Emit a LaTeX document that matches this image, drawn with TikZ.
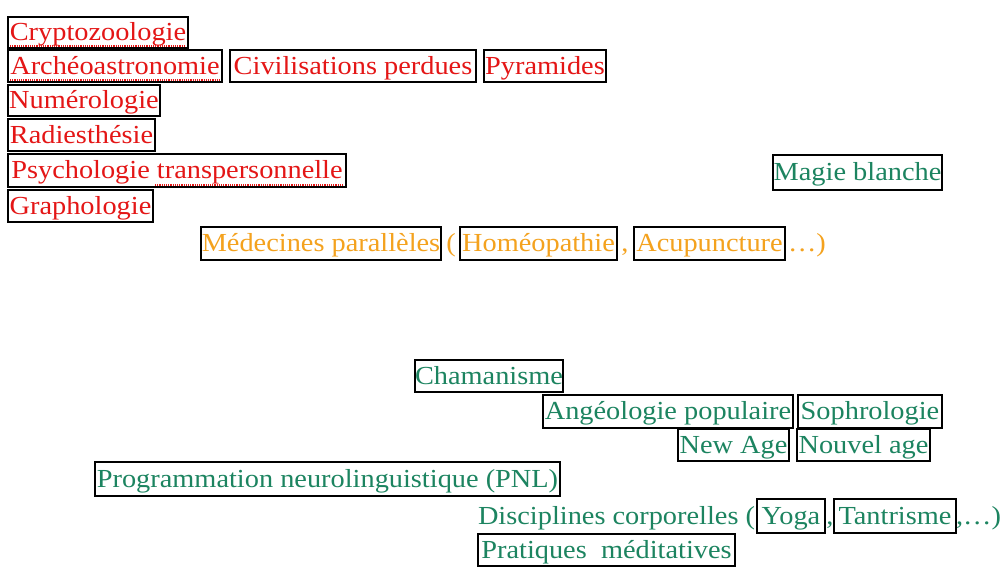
\documentclass[tikz,border=0pt]{standalone}
\usepackage{fontspec}
\setmainfont[FakeStretch=1.09]{Liberation Serif}
\definecolor{cred}{RGB}{228,22,22}
\definecolor{corange}{RGB}{244,162,30}
\definecolor{cgreen}{RGB}{28,132,96}
\tikzset{
  box/.style={draw=black, line width=1.5pt, inner sep=0pt, outer sep=0pt,
    text height=20pt, text depth=4pt, font=\fontsize{26}{28}\selectfont},
  plain/.style={inner sep=0pt, outer sep=0pt, text height=20pt, text depth=4pt,
    font=\fontsize{26}{28}\selectfont},
  rtext/.style={text=cred},
  otext/.style={text=corange},
  gtext/.style={text=cgreen},
  spell/.style={draw=cred, densely dotted, line width=1.2pt}
}
\begin{document}
\begin{tikzpicture}[x=1pt,y=-1pt]
\path[use as bounding box, fill=white] (0,0) rectangle (1003,566);
% red group
\node[box,rtext,minimum width=180pt,minimum height=31pt] (crypto) at (98,32.5) {Cryptozoologie};
\node[box,rtext,minimum width=214pt,minimum height=32pt] (archeo) at (115,66) {Archéoastronomie};
\node[box,rtext,minimum width=246pt,minimum height=32pt] (civil) at (353,66) {Civilisations perdues};
\node[box,rtext,minimum width=122pt,minimum height=32pt] (pyram) at (545,66) {Pyramides};
\node[box,rtext,minimum width=152pt,minimum height=31pt] (numero) at (84,100.5) {Numérologie};
\node[box,rtext,minimum width=147pt,minimum height=32pt] (radies) at (81.5,135) {Radiesthésie};
\node[box,rtext,minimum width=338pt,minimum height=33pt] (psycho) at (177,170.5) {Psychologie transpersonnelle};
\node[box,rtext,minimum width=145pt,minimum height=32pt] (grapho) at (80.5,206) {Graphologie};
\draw[spell] (10,46) -- (185,46);
\draw[spell] (10,80) -- (220,80);
\draw[spell] (155,185) -- (344,185);
% orange group
\node[box,otext,minimum width=240pt,minimum height=33pt] (medec) at (321,243.5) {Médecines parallèles};
\node[plain,otext] (par1) at (451,243.5) {(};
\node[box,otext,minimum width=157pt,minimum height=33pt] (homeo) at (538.5,243.5) {Homéopathie};
\node[plain,otext] (com1) at (625,243.5) {,};
\node[box,otext,minimum width=151pt,minimum height=33pt] (acup) at (709.5,243.5) {Acupuncture};
\node[plain,otext,anchor=west] (etc1) at (788,243.5) {\dots)};
% green group
\node[box,gtext,minimum width=169pt,minimum height=35pt] (magie) at (857.5,172.5) {Magie blanche};
\node[box,gtext,minimum width=148pt,minimum height=32pt] (chaman) at (489,376) {Chamanisme};
\node[box,gtext,minimum width=250pt,minimum height=33pt] (angeo) at (668,411.5) {Angéologie populaire};
\node[box,gtext,minimum width=144pt,minimum height=33pt] (sophro) at (870,411.5) {Sophrologie};
\node[box,gtext,minimum width=111pt,minimum height=32pt] (newage) at (733.5,445) {New Age};
\node[box,gtext,minimum width=133pt,minimum height=32pt] (nouvel) at (863.5,445) {Nouvel age};
\node[box,gtext,minimum width=465pt,minimum height=34pt] (pnl) at (327.5,479) {Programmation neurolinguistique (PNL)};
\node[plain,gtext,anchor=west] (discip) at (478,516) {Disciplines corporelles (};
\node[box,gtext,minimum width=68pt,minimum height=34pt] (yoga) at (791,516) {Yoga};
\node[plain,gtext] (com2) at (830,516) {,};
\node[box,gtext,minimum width=122pt,minimum height=34pt] (tantr) at (895,516) {Tantrisme};
\node[plain,gtext,anchor=east] (etc2) at (1001,516) {,\dots)};
\node[box,gtext,minimum width=257pt,minimum height=32pt] (pratiq) at (606.5,550) {Pratiques\ \ méditatives};
\end{tikzpicture}
\end{document}
